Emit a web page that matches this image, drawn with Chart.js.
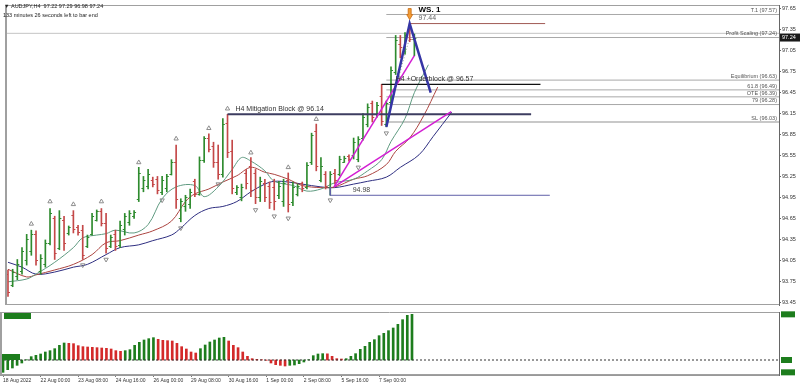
<!DOCTYPE html>
<html>
<head>
<meta charset="utf-8">
<script src="https://cdn.jsdelivr.net/npm/chart.js"></script>
<style>
  html, body { margin: 0; padding: 0; background: #fff; }
  #wrap { position: relative; width: 800px; height: 388px; overflow: hidden; }
  #priceChart { position: absolute; left: 0; top: 0; }
  #aoChart { position: absolute; left: 0; top: 310px; }
</style>
</head>
<body>
<div id="wrap">
  <canvas id="priceChart" width="800" height="310"></canvas>
  <canvas id="aoChart" width="800" height="78"></canvas>
</div>
<script>
// header texts
const symbolLine = '\u25BC AUDJPY,H4  97.22 97.29 96.98 97.24';
const timerLine = '133 minutes 26 seconds left to bar end';

// time axis: one label every 8 H4 bars
const dateLabels = ['18 Aug 2022', '22 Aug 00:00', '23 Aug 08:00', '24 Aug 16:00', '26 Aug 00:00',
  '29 Aug 08:00', '30 Aug 16:00', '1 Sep 00:00', '2 Sep 08:00', '5 Sep 16:00', '7 Sep 00:00'];
const barsPerLabel = 8;
const priceTicks = [93.45, 93.75, 94.05, 94.35, 94.65, 94.95, 95.25, 95.55, 95.85, 96.15,
  96.45, 96.75, 97.05, 97.35, 97.65];

// OHLC, one value per H4 bar
const opens = [93.85, 93.70, 93.82, 93.90, 94.05, 94.18, 94.42, 93.90, 94.00, 94.30,
  94.65, 94.22, 94.62, 94.44, 94.70, 94.52, 94.48, 94.25, 94.42, 94.63,
  94.76, 94.58, 94.26, 94.42, 94.27, 94.50, 94.60, 94.68, 94.92, 95.08,
  95.12, 95.20, 95.22, 95.02, 95.08, 95.28, 95.45, 94.65, 94.82, 94.85,
  95.18, 95.00, 95.48, 95.80, 95.68, 95.45, 95.28, 96.02, 95.62, 95.02,
  94.95, 95.30, 95.40, 95.30, 94.95, 95.15, 95.12, 95.10, 94.98, 94.90,
  95.20, 94.88, 95.00, 95.15, 95.10, 95.45, 95.90, 95.20, 95.28, 95.10,
  95.30, 95.28, 95.46, 95.54, 95.55, 95.50, 95.80, 96.00, 96.30, 96.15,
  96.40, 96.00, 96.32, 96.75, 97.15, 97.05, 97.35, 97.22];
const highs = [93.91, 93.92, 94.06, 94.23, 94.42, 94.48, 94.47, 94.13, 94.34, 94.79,
  94.68, 94.76, 94.68, 94.54, 94.76, 94.55, 94.55, 94.41, 94.72, 94.77,
  94.79, 94.72, 94.41, 94.48, 94.61, 94.72, 94.76, 94.76, 95.38, 95.25,
  95.35, 95.24, 95.25, 95.25, 95.28, 95.49, 95.70, 94.93, 94.98, 95.07,
  95.21, 95.53, 95.82, 95.86, 95.74, 95.70, 96.08, 96.14, 95.77, 95.12,
  95.14, 95.35, 95.52, 95.35, 95.24, 95.21, 95.17, 95.21, 95.18, 95.21,
  95.30, 95.17, 95.14, 95.17, 95.45, 95.87, 96.00, 95.52, 95.32, 95.32,
  95.35, 95.54, 95.54, 95.56, 95.80, 95.82, 96.15, 96.29, 96.33, 96.31,
  96.57, 96.33, 96.82, 97.27, 97.27, 97.31, 97.44, 97.29];
const lows = [93.53, 93.67, 93.77, 93.85, 93.98, 94.12, 93.98, 93.85, 93.95, 94.27,
  94.06, 94.20, 94.19, 94.41, 94.44, 94.41, 94.06, 94.23, 94.41, 94.61,
  94.54, 94.15, 94.23, 94.19, 94.23, 94.41, 94.55, 94.65, 94.89, 95.03,
  95.07, 95.10, 95.00, 94.99, 95.03, 95.27, 94.79, 94.60, 94.75, 94.79,
  94.96, 94.98, 95.45, 95.60, 95.38, 95.21, 95.24, 95.52, 95.00, 94.99,
  94.90, 95.07, 94.96, 94.86, 94.89, 94.89, 94.79, 94.77, 94.93, 94.82,
  94.74, 94.83, 94.97, 95.03, 95.07, 95.42, 95.33, 95.17, 95.07, 94.98,
  95.14, 95.26, 95.45, 95.47, 95.50, 95.46, 95.77, 95.96, 96.03, 96.10,
  95.98, 95.96, 96.29, 96.71, 96.95, 97.00, 97.18, 96.98];
const closes = [93.60, 93.88, 94.00, 94.18, 94.35, 94.42, 94.05, 94.08, 94.30, 94.72,
  94.15, 94.65, 94.30, 94.52, 94.50, 94.45, 94.12, 94.38, 94.68, 94.76,
  94.58, 94.22, 94.38, 94.25, 94.56, 94.68, 94.72, 94.74, 95.30, 95.20,
  95.28, 95.14, 95.05, 95.20, 95.25, 95.45, 94.92, 94.90, 94.95, 95.02,
  95.00, 95.48, 95.80, 95.65, 95.45, 95.28, 96.00, 95.60, 95.08, 95.10,
  95.10, 95.15, 95.05, 94.95, 95.18, 94.95, 94.88, 94.90, 95.12, 95.15,
  94.85, 95.10, 95.12, 95.08, 95.42, 95.85, 95.40, 95.40, 95.12, 95.28,
  95.20, 95.50, 95.52, 95.50, 95.75, 95.78, 96.10, 96.25, 96.10, 96.28,
  96.05, 96.30, 96.78, 97.20, 97.10, 97.28, 97.22, 97.24];

// Awesome oscillator histogram
const aoValues = [-0.37, -0.29, -0.24, -0.16, -0.09,
  0.01, 0.10, 0.14, 0.18, 0.24, 0.28, 0.34, 0.44, 0.51,
  0.50, 0.49, 0.43, 0.40, 0.39, 0.38, 0.37, 0.36, 0.35, 0.33, 0.28, 0.26,
  0.28, 0.31, 0.44, 0.53, 0.60, 0.64, 0.67,
  0.62, 0.59, 0.58, 0.57, 0.50, 0.40, 0.33, 0.24, 0.21,
  0.34, 0.45, 0.54, 0.60, 0.66, 0.68,
  0.57, 0.44, 0.37, 0.24, 0.11, 0.04, 0.02, 0.01, -0.01, -0.09, -0.14, -0.16, -0.18,
  -0.16, -0.15, -0.11, -0.06, 0.01, 0.13, 0.18, 0.19,
  0.185, 0.11, 0.04, 0.03,
  0.04, 0.11, 0.19, 0.32, 0.41, 0.53, 0.61, 0.73, 0.80, 0.88, 0.96, 1.07, 1.21, 1.34, 1.37];

// alligator lines (shifted forward past the last bar)
const lipsX = [0, 4, 6, 10, 14, 16, 19, 21, 23, 27, 30, 33, 36, 40, 42, 45, 48, 50, 52, 55, 57, 61, 64, 67, 70, 74, 77, 80, 82, 85, 87, 90];
const lipsY = [93.74, 93.78, 93.85, 94.02, 94.23, 94.37, 94.41, 94.43, 94.48, 94.44, 94.56, 94.93, 95.10, 95.12, 94.96, 95.10,
  95.35, 95.52, 95.47, 95.33, 95.18, 95.12, 95.04, 95.07, 95.16, 95.21, 95.33, 95.49, 95.75, 96.08, 96.45, 96.85];
const teethX = [0, 4, 6, 10, 14, 18, 21, 24, 28, 31, 35, 38, 40, 43, 46, 49, 52, 55, 57, 60, 63, 67, 70, 74, 77, 81, 83, 86, 89, 92];
const teethY = [93.92, 93.81, 93.84, 93.91, 93.99, 94.13, 94.30, 94.33, 94.41, 94.47, 94.61, 94.89, 95.00, 95.07, 95.17,
  95.26, 95.38, 95.31, 95.28, 95.21, 95.12, 95.09, 95.10, 95.21, 95.26, 95.42, 95.61, 95.80, 96.12, 96.53];
const jawX = [0, 3, 6, 10, 14, 17, 21, 24, 28, 31, 35, 37, 40, 43, 46, 49, 52, 55, 57, 60, 63, 67, 70, 74, 77, 81, 84, 88, 91, 95];
const jawY = [94.02, 93.95, 93.85, 93.88, 93.95, 93.99, 94.13, 94.23, 94.27, 94.33, 94.41, 94.51, 94.69, 94.79, 94.82,
  94.89, 95.03, 95.14, 95.18, 95.17, 95.14, 95.10, 95.09, 95.14, 95.18, 95.24, 95.38, 95.56, 95.82, 96.17];

// fractal markers
const fractalUpX = [5, 9, 14, 20, 28, 36, 43, 47, 52, 60, 66];
const fractalUpY = [94.57, 94.89, 94.85, 94.89, 95.45, 95.79, 95.94, 96.22, 95.59, 95.38, 96.07];
const fractalDnX = [16, 21, 33, 37, 45, 53, 57, 60, 69, 75, 81];
const fractalDnY = [93.98, 94.06, 94.91, 94.51, 95.14, 94.77, 94.68, 94.65, 94.91, 95.38, 95.87];

// fibonacci levels (drawn from the low bar to the right edge)
const levelNames = ['T.1 (97.57)', 'Profit Scaling (97.24)', 'Equilibrium (96.63)', '61.8 (96.49)', 'OTE (96.39)', '79 (96.28)', 'SL (96.03)'];
const levelPrices = [97.57, 97.24, 96.63, 96.49, 96.39, 96.28, 96.03];
const levelStart = 81;
const fibAnchorX = [81, 86];
const fibAnchorY = [96.03, 97.24];
const askPrice = 97.30;

// zones
const zoneNames = ['H4 Mitigation Block @ 96.14', 'H4 +Orderblock @ 96.57'];
const zonePrices = [96.14, 96.57];
const zoneFrom = [47, 80];
const zoneTo = [112, 114];
const zoneLabelAt = [48.7, 83];
const swingLowX = [69, 69, 116];
const swingLowY = [95.10, 94.98, 94.98];
const swingLowLabel = '94.98';
const swingLowLabelAt = 73.8;
const topLineX = [86, 115];
const topPrice = 97.44;
const waveName = 'WS. 1';
const waveLabelAt = 87.9;

// drawn legs
const zigX = [81, 86, 90.5];
const zigY = [95.96, 97.44, 96.45];
const fanOriginX = 69.8;
const fanOriginY = 95.10;
const fanEndX = [87, 94.9];
const fanEndY = [96.98, 96.18];

// ---------------------------------------------------------------
Chart.defaults.font.family = '"Liberation Sans", "DejaVu Sans", sans-serif';

const xMin = -0.64;
const xMax = 165.07;
const upColor = '#2e8b2e';
const downColor = '#c44848';
const smallFont = '5.5px "Liberation Sans", "DejaVu Sans"';

const pts = (xs, ys) => xs.map((v, k) => ({ x: v, y: ys[k] }));
const flat = (from, to, price) => [{ x: from, y: price }, { x: to, y: price }];
const barColors = closes.map((c, i) => (c >= opens[i] ? upColor : downColor));

function lineSet(data, color, width, order, extra) {
  return Object.assign({ type: 'line', data, borderColor: color, borderWidth: width,
    pointRadius: 0, fill: false, order }, extra || {});
}

const frame = {
  id: 'frame',
  afterDraw(chart) {
    const { ctx, chartArea: a } = chart;
    ctx.save();
    ctx.strokeStyle = '#a0a0a0';
    ctx.lineWidth = 2;
    ctx.beginPath();
    ctx.moveTo(a.left + 1, a.bottom);
    ctx.lineTo(a.left + 1, a.top);
    ctx.stroke();
    ctx.lineWidth = 1;
    ctx.beginPath();
    ctx.moveTo(a.left, a.top + 0.5);
    ctx.lineTo(a.right, a.top + 0.5);
    ctx.moveTo(a.left, a.bottom - 0.5);
    ctx.lineTo(a.right, a.bottom - 0.5);
    ctx.stroke();
    ctx.restore();
  }
};

// open / close ticks on the OHLC bars
const barTicks = {
  id: 'barTicks',
  afterDatasetDraw(chart, args) {
    if (args.meta.type !== 'bar') return;
    const { ctx, scales: { x, y } } = chart;
    ctx.save();
    ctx.lineWidth = 1;
    opens.forEach((o, i) => {
      const px = x.getPixelForValue(i);
      const yo = Math.round(y.getPixelForValue(o)) + 0.5;
      const yc = Math.round(y.getPixelForValue(closes[i])) + 0.5;
      ctx.strokeStyle = barColors[i];
      ctx.beginPath();
      ctx.moveTo(px - 2, yo);
      ctx.lineTo(px, yo);
      ctx.moveTo(px, yc);
      ctx.lineTo(px + 2, yc);
      ctx.stroke();
    });
    ctx.restore();
  }
};

const annotations = {
  id: 'annotations',
  afterDraw(chart) {
    const { ctx, chartArea, scales: { x, y } } = chart;
    ctx.save();

    ctx.fillStyle = '#222';
    ctx.font = smallFont;
    ctx.textAlign = 'left';
    ctx.textBaseline = 'middle';
    ctx.fillText(symbolLine, 4, 6);
    ctx.fillText(timerLine, 3, 15);

    // level captions on the right
    ctx.fillStyle = '#555';
    ctx.textAlign = 'right';
    ctx.textBaseline = 'bottom';
    levelNames.forEach((name, k) => {
      ctx.fillText(name, chartArea.right - 2, y.getPixelForValue(levelPrices[k]) - 1);
    });

    // zone captions
    ctx.font = '7px "Liberation Sans", "DejaVu Sans"';
    ctx.textAlign = 'left';
    ctx.fillStyle = '#333';
    zoneNames.forEach((name, k) => {
      ctx.fillText(name, x.getPixelForValue(zoneLabelAt[k]), y.getPixelForValue(zonePrices[k]) - 1.5);
    });
    ctx.fillStyle = '#444';
    ctx.fillText(swingLowLabel, x.getPixelForValue(swingLowLabelAt), y.getPixelForValue(swingLowY[2]) - 1.5);

    // wave label and arrow over the peak
    const peakX = x.getPixelForValue(zigX[1]);
    const peakY = y.getPixelForValue(zigY[1]);
    ctx.textBaseline = 'middle';
    ctx.fillStyle = '#666';
    ctx.fillText(topPrice.toFixed(2), x.getPixelForValue(waveLabelAt), peakY - 6);
    ctx.fillStyle = '#000';
    ctx.font = 'bold 8px "Liberation Sans", "DejaVu Sans"';
    ctx.fillText(waveName, x.getPixelForValue(waveLabelAt), peakY - 14);

    ctx.fillStyle = '#f39c34';
    ctx.strokeStyle = '#c86a10';
    ctx.lineWidth = 0.8;
    ctx.beginPath();
    ctx.moveTo(peakX - 1.5, peakY - 15);
    ctx.lineTo(peakX + 1.5, peakY - 15);
    ctx.lineTo(peakX + 1.5, peakY - 9);
    ctx.lineTo(peakX + 3, peakY - 9);
    ctx.lineTo(peakX, peakY - 4);
    ctx.lineTo(peakX - 3, peakY - 9);
    ctx.lineTo(peakX - 1.5, peakY - 9);
    ctx.closePath();
    ctx.fill();
    ctx.stroke();

    // bid box on the price axis
    const last = closes[closes.length - 1];
    const by = y.getPixelForValue(last);
    ctx.fillStyle = '#1a1a1a';
    ctx.fillRect(chartArea.right + 1, by - 4, 20, 8);
    ctx.fillStyle = '#fff';
    ctx.font = smallFont;
    ctx.textAlign = 'left';
    ctx.fillText(last.toFixed(2), chartArea.right + 3, by);
    ctx.restore();
  }
};

const priceDatasets = [
  lineSet(pts(zigX, zigY), '#3535a5', 2.5, 0),
  ...fanEndX.map((ex, k) => lineSet([{ x: fanOriginX, y: fanOriginY }, { x: ex, y: fanEndY[k] }], '#d21fd2', 1.5, 1)),
  lineSet(flat(zoneFrom[0], zoneTo[0], zonePrices[0]), '#3d3d60', 2, 2),
  lineSet(flat(zoneFrom[1], zoneTo[1], zonePrices[1]), '#111', 1.3, 2),
  lineSet(pts(swingLowX, swingLowY), '#6060a8', 1, 2),
  lineSet(flat(topLineX[0], topLineX[1], topPrice), '#a05a55', 1, 2),
  {
    type: 'bar',
    data: highs.map((h, i) => ({ x: i, y: [lows[i], h] })),
    backgroundColor: barColors,
    borderWidth: 0,
    barThickness: 1,
    order: 3
  },
  lineSet(pts(fractalUpX, fractalUpY), '#8c8c8c', 1, 3, {
    showLine: false, pointStyle: 'triangle', pointRadius: 2.5,
    pointBorderColor: '#8c8c8c', pointBackgroundColor: 'rgba(0,0,0,0)', pointBorderWidth: 1
  }),
  lineSet(pts(fractalDnX, fractalDnY), '#8c8c8c', 1, 3, {
    showLine: false, pointStyle: 'triangle', pointRadius: 2.5, pointRotation: 180,
    pointBorderColor: '#8c8c8c', pointBackgroundColor: 'rgba(0,0,0,0)', pointBorderWidth: 1
  }),
  lineSet(pts(lipsX, lipsY), '#5f9a80', 1, 4, { tension: 0.35 }),
  lineSet(pts(teethX, teethY), '#ab4440', 1, 4, { tension: 0.35 }),
  lineSet(pts(jawX, jawY), '#2e2e80', 1, 4, { tension: 0.35 }),
  lineSet(pts(fibAnchorX, fibAnchorY), '#9a9a9a', 1, 5, { borderDash: [1, 2] }),
  ...levelPrices.map((p, k) => lineSet(flat(levelStart, xMax, p),
    k === levelPrices.length - 1 ? '#c8c8c8' : '#a8a8a8', k === levelPrices.length - 1 ? 2 : 1, 5)),
  lineSet(flat(xMin, xMax, askPrice), '#c4c4c4', 1, 6)
];

new Chart(document.getElementById('priceChart'), {
  type: 'line',
  data: { datasets: priceDatasets },
  options: {
    responsive: false,
    devicePixelRatio: 1,
    animation: false,
    events: [],
    layout: { padding: { top: 2, bottom: 1, left: 0, right: 0 } },
    plugins: { legend: { display: false }, tooltip: { enabled: false } },
    scales: {
      x: {
        type: 'linear', min: xMin, max: xMax, offset: false, display: false,
        grid: { display: false, offset: false }
      },
      y: {
        type: 'linear', position: 'right', min: 93.408, max: 97.706, beginAtZero: false,
        afterBuildTicks: (s) => { s.ticks = priceTicks.map((v) => ({ value: v })); },
        afterFit: (s) => { s.width = 21; },
        ticks: { autoSkip: false, font: { size: 5.5 }, color: '#333', padding: 1, callback: (v) => Number(v).toFixed(2) },
        grid: { drawOnChartArea: false, tickLength: 2, color: '#666' },
        border: { color: '#666' }
      }
    }
  },
  plugins: [frame, barTicks, annotations]
});

// oscillator window
const aoColors = aoValues.map((v, i) => (i === 0 || v > aoValues[i - 1] ? '#1d7d1d' : '#d42a2a'));

const aoBoxes = {
  id: 'aoBoxes',
  afterDraw(chart) {
    const { ctx, chartArea: a, scales: { y } } = chart;
    ctx.save();
    ctx.fillStyle = '#1d7d1d';
    const zeroY = y.getPixelForValue(0);
    ctx.fillRect(a.left + 4, a.top + 1, 27, 6);
    ctx.fillRect(a.left + 2, zeroY - 6, 18, 6);
    const marks = [aoValues[aoValues.length - 1], 0, Math.min(...aoValues)];
    marks.forEach((v, k) => {
      const py = y.getPixelForValue(v);
      ctx.fillRect(a.right + 2, py - 3, k === 1 ? 11 : 14, 6);
    });
    ctx.restore();
  }
};

new Chart(document.getElementById('aoChart'), {
  type: 'line',
  data: {
    datasets: [
      lineSet(flat(xMin, xMax, 0), '#333', 1, 0, { borderDash: [2, 2] }),
      {
        type: 'bar',
        data: aoValues.map((v, i) => ({ x: i, y: v })),
        backgroundColor: aoColors,
        borderWidth: 0,
        barThickness: 2,
        order: 1
      }
    ]
  },
  options: {
    responsive: false,
    devicePixelRatio: 1,
    animation: false,
    events: [],
    layout: { padding: { top: 2, bottom: 0, left: 0, right: 0 } },
    plugins: { legend: { display: false }, tooltip: { enabled: false } },
    scales: {
      x: {
        type: 'linear', min: xMin, max: xMax, offset: false,
        afterBuildTicks: (s) => { s.ticks = dateLabels.map((_, k) => ({ value: k * barsPerLabel })); },
        afterFit: (s) => { s.height = 13; },
        ticks: {
          autoSkip: false, maxRotation: 0, align: 'start', font: { size: 5 }, color: '#333', padding: 1,
          callback: (v, k) => dateLabels[k]
        },
        grid: { drawOnChartArea: false, tickLength: 2, color: '#777', offset: false },
        border: { color: '#999' }
      },
      y: {
        type: 'linear', position: 'right', min: -0.45, max: 1.44, beginAtZero: false,
        afterFit: (s) => { s.width = 21; },
        ticks: { display: false },
        grid: { display: false },
        border: { color: '#666' }
      }
    }
  },
  plugins: [frame, aoBoxes]
});
</script>
</body>
</html>
